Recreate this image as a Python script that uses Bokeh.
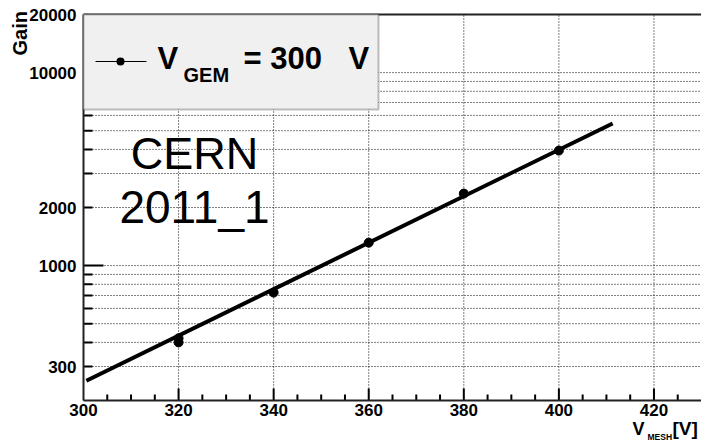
import math
from bokeh.plotting import figure
from bokeh.models import (FixedTicker, SingleIntervalTicker, Label, BoxAnnotation, Range1d)
from bokeh.embed import file_html
from bokeh.resources import INLINE

# ---- data ----
v_mesh = [320, 320, 340, 360, 380, 400]
gain = [420, 400, 725, 1315, 2362, 3945]

# exponential fit (straight on a log axis): end points of the drawn fit
fit_v = [300.6, 411.3]
fit_gain = [253, 5450]

x_ticks = [300, 320, 340, 360, 380, 400, 420]
y_tick_labels = [300, 1000, 2000, 10000, 20000]
y_decades = [1000, 10000]

legend_sub = "GEM"
legend_rest = "= 300"
legend_unit = "V"
note_lines = ["CERN", "2011_1"]

FONT = "Liberation Sans"

# axis extents (frame of the original ROOT canvas)
X_MIN, X_MAX = 300, 430
Y_MIN, Y_MAX = 200, 20000

# canvas geometry: the frame sits at px 83..701 (x) and 14..400 (y)
W, H = 701, 441
L, T, B = 83, 14, 41
px_per_x = (W - L) / (X_MAX - X_MIN)
px_per_dec = (H - T - B) / (math.log10(Y_MAX) - math.log10(Y_MIN))
xr0 = X_MIN - L / px_per_x
yr0 = 10 ** (math.log10(Y_MIN) - B / px_per_dec)
yr1 = 10 ** (math.log10(Y_MAX) + T / px_per_dec)

y_all = [m * d for d in (100, 1000, 10000) for m in range(1, 10) if Y_MIN <= m * d <= Y_MAX]
y_minor = [t for t in y_all if t not in y_tick_labels]

p = figure(width=W, height=H, output_backend="svg", toolbar_location=None,
           x_range=Range1d(xr0, X_MAX), y_range=Range1d(yr0, yr1),
           y_axis_type="log", min_border=0)
p.title.visible = False
p.background_fill_color = "white"
p.border_fill_color = "white"
p.outline_line_color = None
p.xgrid.visible = False
p.ygrid.visible = False

# dotted grid, limited to the frame
gx = [t for t in x_ticks if X_MIN < t < X_MAX]
p.segment(x0=gx, y0=[Y_MIN] * len(gx), x1=gx, y1=[Y_MAX] * len(gx),
          line_color="black", line_dash="1 2", line_width=1)
gy = [t for t in y_all if Y_MIN < t < Y_MAX]
p.segment(x0=[X_MIN] * len(gy), y0=gy, x1=[X_MAX] * len(gy), y1=gy,
          line_color="black", line_dash="1 2", line_width=1)
# top frame line
p.segment(x0=[X_MIN], y0=[Y_MAX], x1=[X_MAX], y1=[Y_MAX], line_color="#222222", line_width=2)

# tick marks drawn inward (ROOT style)
xt = list(range(X_MIN + 5, X_MAX, 5))
xt_top = [Y_MIN * 10 ** ((12 if t in x_ticks else 6) / px_per_dec) for t in xt]
p.segment(x0=xt, y0=[Y_MIN] * len(xt), x1=list(xt), y1=xt_top,
          line_color="black", line_width=2)
yt = [t for t in y_all if Y_MIN < t < Y_MAX]
yt_right = [X_MIN + (20 if t in y_decades else 9) / px_per_x for t in yt]
p.segment(x0=[X_MIN] * len(yt), y0=yt, x1=yt_right, y1=list(yt),
          line_color="black", line_width=2)

# axes (line + labels)
xa = p.xaxis[0]
xa.fixed_location = Y_MIN
xa.bounds = (X_MIN, X_MAX)
xa.ticker = SingleIntervalTicker(interval=20, num_minor_ticks=4)
xa.major_label_standoff = 3

ya = p.yaxis[0]
ya.fixed_location = X_MIN
ya.bounds = (Y_MIN, Y_MAX)
ya.ticker = FixedTicker(ticks=y_tick_labels, minor_ticks=y_minor)
ya.major_label_standoff = 7
ya.major_label_overrides = {t: str(t) for t in y_tick_labels}

for ax in (xa, ya):
    ax.axis_line_color = "#222222"
    ax.axis_line_width = 2
    ax.major_tick_in = 0
    ax.major_tick_out = 0
    ax.minor_tick_in = 0
    ax.minor_tick_out = 0
    ax.major_tick_line_color = None
    ax.minor_tick_line_color = None
    ax.major_label_text_font = FONT
    ax.major_label_text_font_style = "bold"
    ax.major_label_text_font_size = "17px"
    ax.major_label_text_color = "black"

# data
p.line(fit_v, fit_gain, line_color="black", line_width=4)
p.scatter(v_mesh, gain, size=9, color="black", marker="circle")

# legend box
def sbox(l, r, b, t, **kw):
    p.add_layout(BoxAnnotation(left=l, right=r, bottom=b, top=t,
                               left_units="screen", right_units="screen",
                               bottom_units="screen", top_units="screen", **kw))

sbox(83, 378, 332, 427, fill_color="#f0f0f0", fill_alpha=1, line_color="#333333", line_width=2)
sbox(95, 146, 379.5, 380.5, fill_color="black", fill_alpha=1, line_color=None)
sbox(116, 124, 376, 384, fill_color="black", fill_alpha=1, line_color=None, border_radius=4)

def lab(text, x, y, size, style="bold", align="left", angle=0.0):
    p.add_layout(Label(x=x, y=y, x_units="screen", y_units="screen", text=text,
                       text_font=FONT, text_font_style=style,
                       text_font_size=f"{size}px", text_align=align,
                       text_baseline="alphabetic", text_color="black", angle=angle))

lab("V", 157, 383, 31)
lab(legend_sub, 183, 367, 20)
lab(legend_rest, 243, 383, 31)
lab(legend_unit, 348, 383, 31)

lab(note_lines[0], 194, 288, 45, style="normal", align="center")
lab(note_lines[1], 194, 235, 46, style="normal", align="center")

# axis titles
lab("Gain", 19, 386, 20, angle=math.pi / 2)
lab("V", 632, 13, 18)
lab("MESH", 647, 5, 8.5)
lab("[V]", 672, 13, 19)

open("out.html", "w").write(file_html(p, INLINE))
